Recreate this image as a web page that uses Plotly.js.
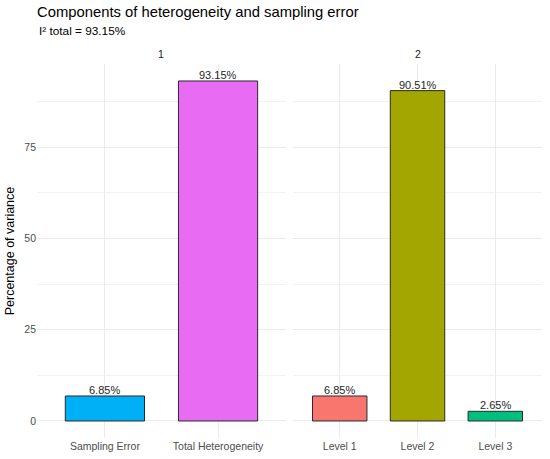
<!DOCTYPE html>
<html>
<head>
<meta charset="utf-8">
<script src="https://cdn.plot.ly/plotly-3.0.1.min.js"></script>
<style>html,body{margin:0;padding:0;background:#fff;}#chart{width:550px;height:459px;}</style>
</head>
<body>
<div id="chart"></div>
<script>
const panel1Categories = ["Sampling Error", "Total Heterogeneity"];
const panel1Values = [6.85, 93.15];
const panel1Colors = ["#00B0F6", "#E76BF3"];
const panel2Categories = ["Level 1", "Level 2", "Level 3"];
const panel2Values = [6.85, 90.51, 2.65];
const panel2Colors = ["#F8766D", "#A3A500", "#00BF7D"];
const yTicks = [0, 25, 50, 75];
const facetLabels = ["1", "2"];
const titleText = "Components of heterogeneity and sampling error";
const subtitleText = "I² total = 93.15%";

const font = "Liberation Sans, Arial, sans-serif";
const gridColor = "#EBEBEB";

const barCommon = {
  type: "bar",
  width: 0.7,
  hoverinfo: "x+y",
  showlegend: false
};

const data = [
  Object.assign({}, barCommon, {
    x: panel1Categories, y: panel1Values, xaxis: "x", yaxis: "y",
    marker: {color: panel1Colors, line: {color: "#2a2a2a", width: 1}}
  }),
  Object.assign({}, barCommon, {
    x: panel2Categories, y: panel2Values, xaxis: "x2", yaxis: "y2",
    marker: {color: panel2Colors, line: {color: "#2a2a2a", width: 1}}
  })
];

function valueLabels(cats, vals, xref, yref) {
  return cats.map((c, i) => ({
    text: vals[i].toFixed(2) + "%",
    x: c, y: vals[i], xref: xref, yref: yref,
    xanchor: "center", yanchor: "bottom", yshift: -2,
    showarrow: false,
    font: {family: font, size: 11, color: "#262626"}
  }));
}

const yCommon = {
  range: [-4.66, 97.8],
  tickvals: yTicks,
  ticktext: yTicks.map(String),
  showgrid: true,
  gridcolor: gridColor,
  gridwidth: 1,
  zeroline: false,
  showline: false,
  ticks: "",
  minor: {dtick: 12.5, tick0: 0, showgrid: true, gridcolor: "#F3F3F3", gridwidth: 1, ticks: ""},
  tickfont: {family: font, size: 10.5, color: "#4D4D4D"}
};

const xCommon = {
  type: "category",
  showgrid: true,
  gridcolor: gridColor,
  gridwidth: 1,
  zeroline: false,
  showline: false,
  ticks: "",
  tickfont: {family: font, size: 10.5, color: "#4D4D4D"}
};

const layout = {
  width: 550,
  height: 459,
  margin: {l: 37, r: 8, t: 64, b: 21},
  paper_bgcolor: "#fff",
  plot_bgcolor: "#fff",
  font: {family: font},
  title: {
    text: titleText,
    x: 37 / 550, xanchor: "left",
    y: 1 - 12 / 459, yanchor: "middle",
    font: {family: font, size: 14.8, color: "#000"}
  },
  xaxis: Object.assign({}, xCommon, {domain: [0, 0.493], range: [-0.6, 1.6], anchor: "y"}),
  xaxis2: Object.assign({}, xCommon, {domain: [0.507, 1], range: [-0.6, 2.6], anchor: "y2"}),
  yaxis: Object.assign({}, yCommon, {
    anchor: "x",
    title: {text: "Percentage of variance", standoff: 6, font: {family: font, size: 12.5, color: "#000"}}
  }),
  yaxis2: Object.assign({}, yCommon, {anchor: "x2", matches: "y", showticklabels: false}),
  annotations: [
    {text: subtitleText, xref: "paper", yref: "paper", x: 0, xanchor: "left",
     y: 1 + (64 - 31) / 374, yanchor: "middle", showarrow: false,
     font: {family: font, size: 11.8, color: "#000"}},
    {text: facetLabels[0], xref: "paper", yref: "paper", x: 0.2465, xanchor: "center",
     y: 1 + (64 - 54) / 374, yanchor: "middle", showarrow: false,
     font: {family: font, size: 10.5, color: "#1A1A1A"}},
    {text: facetLabels[1], xref: "paper", yref: "paper", x: 0.7535, xanchor: "center",
     y: 1 + (64 - 54) / 374, yanchor: "middle", showarrow: false,
     font: {family: font, size: 10.5, color: "#1A1A1A"}}
  ].concat(valueLabels(panel1Categories, panel1Values, "x", "y"))
   .concat(valueLabels(panel2Categories, panel2Values, "x2", "y2"))
};

Plotly.newPlot("chart", data, layout, {displayModeBar: false, staticPlot: true});
</script>
</body>
</html>
